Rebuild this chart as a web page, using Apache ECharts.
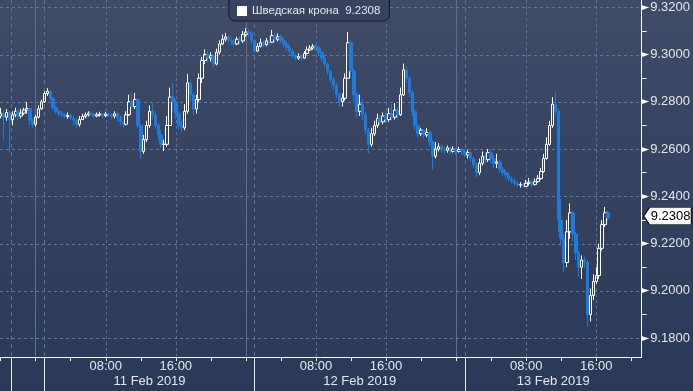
<!DOCTYPE html>
<html><head><meta charset="utf-8">
<script src="https://cdn.jsdelivr.net/npm/echarts@6.0.0/dist/echarts.min.js"></script>
<style>html,body{margin:0;padding:0;background:#34415f}#c{width:693px;height:391px;background:linear-gradient(180deg,#3f4b67 0%,#2a3958 100%)}</style>
</head><body><div id="c"></div>
<script>
// ---------- data ----------
const seriesName = 'Шведская крона';
const lastValue = 9.2308;
const startTime = '2019-02-10T20:00:00Z';   // first 20-minute candle
const stepMinutes = 20;
const firstOpen = 9.2740;
const closes = [
 9.2750,9.2735,9.2755,9.2725,9.2745,9.2760,9.2740,9.2752,9.2765,9.2772,
 9.2720,9.2705,9.2735,9.2770,9.2800,9.2835,9.2845,9.2815,9.2775,9.2760,
 9.2750,9.2745,9.2738,9.2742,9.2730,9.2722,9.2705,9.2725,9.2738,9.2745,
 9.2752,9.2748,9.2740,9.2745,9.2748,9.2742,9.2748,9.2745,9.2740,9.2750,
 9.2735,9.2715,9.2705,9.2745,9.2800,9.2780,9.2810,9.2700,9.2590,9.2640,
 9.2700,9.2760,9.2745,9.2700,9.2660,9.2620,9.2620,9.2700,9.2820,9.2800,
 9.2750,9.2700,9.2690,9.2760,9.2880,9.2830,9.2770,9.2810,9.2900,9.2975,
 9.3000,9.2985,9.2995,9.2960,9.3010,9.3045,9.3065,9.3075,9.3060,9.3055,
 9.3045,9.3065,9.3058,9.3085,9.3095,9.3090,9.3060,9.3015,9.3035,9.3050,
 9.3042,9.3058,9.3052,9.3080,9.3065,9.3075,9.3060,9.3045,9.3030,9.3015,
 9.2995,9.2985,9.2992,9.2985,9.3005,9.3020,9.3028,9.3035,9.3030,9.3010,
 9.2985,9.2960,9.2930,9.2895,9.2870,9.2830,9.2800,9.2815,9.2900,9.3050,
 9.2930,9.2830,9.2760,9.2790,9.2745,9.2680,9.2620,9.2665,9.2700,9.2730,
 9.2715,9.2740,9.2725,9.2750,9.2735,9.2765,9.2745,9.2830,9.2935,9.2900,
 9.2840,9.2760,9.2700,9.2665,9.2680,9.2660,9.2670,9.2630,9.2570,9.2600,
 9.2610,9.2600,9.2595,9.2605,9.2590,9.2600,9.2590,9.2598,9.2592,9.2575,
 9.2585,9.2560,9.2535,9.2500,9.2540,9.2570,9.2555,9.2585,9.2560,9.2540,
 9.2545,9.2515,9.2500,9.2490,9.2475,9.2465,9.2455,9.2448,9.2450,9.2442,
 9.2455,9.2460,9.2450,9.2462,9.2475,9.2505,9.2560,9.2620,9.2700,9.2790,
 9.2760,9.2300,9.2220,9.2120,9.2250,9.2330,9.2240,9.2160,9.2100,9.2130,
 9.2120,9.1900,9.1980,9.2040,9.2065,9.2180,9.2280,9.2330,9.2308
];
const highs = [
 9.2775,9.2765,9.2770,9.2760,9.2760,9.2775,9.2765,9.2770,9.2775,9.2800,
 9.2760,9.2730,9.2745,9.2785,9.2810,9.2845,9.2858,9.2850,9.2820,9.2785,
 9.2765,9.2760,9.2752,9.2755,9.2750,9.2740,9.2730,9.2740,9.2750,9.2755,
 9.2760,9.2762,9.2752,9.2755,9.2758,9.2752,9.2758,9.2760,9.2752,9.2760,
 9.2755,9.2740,9.2725,9.2760,9.2830,9.2840,9.2838,9.2815,9.2705,9.2660,
 9.2720,9.2785,9.2800,9.2760,9.2710,9.2680,9.2640,9.2740,9.2860,9.2878,
 9.2810,9.2760,9.2720,9.2790,9.2918,9.2890,9.2840,9.2830,9.2920,9.2990,
 9.3022,9.3015,9.3010,9.3000,9.3025,9.3060,9.3085,9.3092,9.3080,9.3072,
 9.3065,9.3075,9.3078,9.3100,9.3112,9.3110,9.3100,9.3065,9.3048,9.3068,
 9.3060,9.3070,9.3075,9.3105,9.3092,9.3090,9.3085,9.3068,9.3052,9.3040,
 9.3025,9.3005,9.3005,9.3000,9.3015,9.3035,9.3040,9.3045,9.3042,9.3040,
 9.3015,9.2995,9.2965,9.2935,9.2905,9.2880,9.2840,9.2835,9.2920,9.3095,
 9.3060,9.2940,9.2840,9.2830,9.2810,9.2760,9.2690,9.2690,9.2720,9.2750,
 9.2745,9.2755,9.2760,9.2775,9.2790,9.2795,9.2780,9.2860,9.2962,9.2950,
 9.2910,9.2850,9.2770,9.2705,9.2690,9.2685,9.2690,9.2680,9.2640,9.2630,
 9.2625,9.2620,9.2612,9.2615,9.2610,9.2612,9.2605,9.2610,9.2605,9.2600,
 9.2598,9.2590,9.2570,9.2545,9.2560,9.2590,9.2585,9.2600,9.2600,9.2575,
 9.2580,9.2555,9.2525,9.2510,9.2500,9.2485,9.2475,9.2465,9.2460,9.2458,
 9.2470,9.2478,9.2470,9.2475,9.2490,9.2520,9.2580,9.2650,9.2720,9.2820,
 9.2842,9.2770,9.2390,9.2240,9.2300,9.2370,9.2340,9.2250,9.2170,9.2150,
 9.2145,9.2130,9.2010,9.2070,9.2100,9.2200,9.2300,9.2355,9.2340
];
const lows = [
 9.2730,9.2640,9.2720,9.2585,9.2700,9.2735,9.2725,9.2730,9.2745,9.2750,
 9.2700,9.2690,9.2695,9.2730,9.2765,9.2795,9.2825,9.2805,9.2765,9.2750,
 9.2740,9.2735,9.2730,9.2728,9.2720,9.2700,9.2690,9.2695,9.2725,9.2730,
 9.2738,9.2740,9.2732,9.2735,9.2738,9.2730,9.2735,9.2738,9.2728,9.2730,
 9.2715,9.2700,9.2690,9.2700,9.2740,9.2770,9.2770,9.2690,9.2562,9.2580,
 9.2630,9.2690,9.2725,9.2685,9.2640,9.2605,9.2592,9.2610,9.2700,9.2760,
 9.2730,9.2680,9.2672,9.2680,9.2750,9.2800,9.2745,9.2750,9.2800,9.2880,
 9.2960,9.2965,9.2970,9.2945,9.2955,9.3000,9.3040,9.3055,9.3050,9.3040,
 9.3035,9.3040,9.3045,9.3050,9.3075,9.3075,9.3045,9.3005,9.3010,9.3030,
 9.3030,9.3035,9.3040,9.3050,9.3050,9.3055,9.3048,9.3030,9.3015,9.3000,
 9.2985,9.2975,9.2978,9.2975,9.2982,9.3000,9.3015,9.3020,9.3018,9.2995,
 9.2970,9.2945,9.2915,9.2880,9.2850,9.2815,9.2778,9.2780,9.2805,9.2900,
 9.2900,9.2800,9.2730,9.2740,9.2720,9.2660,9.2583,9.2610,9.2655,9.2690,
 9.2700,9.2705,9.2710,9.2715,9.2720,9.2725,9.2730,9.2740,9.2825,9.2880,
 9.2820,9.2740,9.2680,9.2650,9.2655,9.2645,9.2650,9.2610,9.2512,9.2560,
 9.2590,9.2585,9.2580,9.2585,9.2578,9.2585,9.2575,9.2585,9.2575,9.2565,
 9.2560,9.2545,9.2520,9.2480,9.2490,9.2530,9.2540,9.2545,9.2540,9.2520,
 9.2520,9.2500,9.2485,9.2475,9.2465,9.2455,9.2445,9.2440,9.2437,9.2435,
 9.2440,9.2445,9.2440,9.2445,9.2458,9.2470,9.2500,9.2555,9.2615,9.2690,
 9.2740,9.2250,9.2190,9.2080,9.2100,9.2220,9.2210,9.2130,9.2060,9.2050,
 9.2095,9.1846,9.1870,9.1960,9.2030,9.2050,9.2170,9.2270,9.2295
];
// axis ticks and labels
const yMajorTicks = [9.18, 9.20, 9.22, 9.24, 9.26, 9.28, 9.30, 9.32];
const yMinorTicks = [9.17, 9.19, 9.21, 9.23, 9.25, 9.27, 9.29, 9.31];
const hourTickTimes = [
 '2019-02-10T20:00Z','2019-02-11T00:00Z','2019-02-11T04:00Z','2019-02-11T08:00Z','2019-02-11T12:00Z','2019-02-11T16:00Z','2019-02-11T20:00Z',
 '2019-02-12T00:00Z','2019-02-12T04:00Z','2019-02-12T08:00Z','2019-02-12T12:00Z','2019-02-12T16:00Z','2019-02-12T20:00Z',
 '2019-02-13T00:00Z','2019-02-13T04:00Z','2019-02-13T08:00Z','2019-02-13T12:00Z','2019-02-13T16:00Z','2019-02-13T20:00Z'
];
const timeLabelTimes = ['2019-02-11T08:00Z','2019-02-11T16:00Z','2019-02-12T08:00Z','2019-02-12T16:00Z','2019-02-13T08:00Z','2019-02-13T16:00Z'];
const dateLabels = ['11 Feb 2019', '12 Feb 2019', '13 Feb 2019'];
const dateLabelTimes = ['2019-02-11T13:00Z', '2019-02-12T13:00Z', '2019-02-13T11:05Z'];
const dayBoundaryTimes = ['2019-02-10T21:10Z', '2019-02-11T01:00Z', '2019-02-12T01:00Z', '2019-02-13T01:00Z'];
const midnightTimes = ['2019-02-11T00:00Z', '2019-02-12T00:00Z', '2019-02-13T00:00Z'];

// ---------- build ----------
const T = s => Date.parse(s);
const H = 3600e3;
const DAY0 = T('2019-02-11T00:00Z');
const xMin = DAY0 - 4.0755 * H, xMax = DAY0 + 69.17 * H;
const yMin = 9.1720, yMax = 9.3231;
const FONT = 'Liberation Sans';
const TXT = '#e4e6ea';
const GRIDC = '#607090';

const t0 = T(startTime);
const candles = closes.map((c, i) => [t0 + i * stepMinutes * 60e3, i === 0 ? firstOpen : closes[i - 1], c, lows[i], highs[i]]);

const hidden = {type: 'value', min: xMin, max: xMax, position: 'bottom', axisLine: {show: false},
  axisTick: {show: false}, axisLabel: {show: false}, splitLine: {show: false}};
const hiddenY = {type: 'value', min: yMin, max: yMax, position: 'right', axisLine: {show: false},
  axisTick: {show: false}, axisLabel: {show: false}, splitLine: {show: false}};
const pad = n => (n < 10 ? '0' : '') + n;
const dateTimesMs = dateLabelTimes.map(T);

const chart = echarts.init(document.getElementById('c'), null, {renderer: 'canvas'});
chart.setOption({
  animation: false,
  backgroundColor: 'transparent',
  grid: {left: 0, top: 0, right: 46, bottom: 34, containLabel: false},
  legend: {
    show: true, left: 229, top: -6, padding: [11, 9, 4, 8], selectedMode: false,
    backgroundColor: '#38445f', borderColor: '#10151f', borderWidth: 1, borderRadius: [0, 0, 6, 6],
    itemWidth: 10, itemHeight: 10,
    data: [{name: seriesName, icon: 'rect', itemStyle: {color: '#ffffff', borderWidth: 0}}],
    textStyle: {color: TXT, fontSize: 11.5, fontFamily: FONT},
    formatter: n => n + '  ' + lastValue.toFixed(4)
  },
  xAxis: [
    Object.assign({}, hidden, {
      axisLine: {show: true, lineStyle: {color: '#ffffff', width: 1}},
      axisTick: {show: true, customValues: hourTickTimes.map(T), length: 4, lineStyle: {color: '#ffffff'}},
      axisLabel: {show: true, customValues: timeLabelTimes.map(T), margin: 3, color: TXT, fontSize: 13, fontFamily: FONT,
        formatter: v => { const d = new Date(v); return pad(d.getUTCHours()) + ':' + pad(d.getUTCMinutes()); }}
    }),
    Object.assign({}, hidden, {
      axisTick: {show: true, customValues: dayBoundaryTimes.map(T), length: 34, lineStyle: {color: '#e8e8e8'}},
      axisLabel: {show: true, customValues: dateTimesMs, margin: 18, color: TXT, fontSize: 13, fontFamily: FONT,
        formatter: v => { let k = 0, best = Infinity; dateTimesMs.forEach((t, j) => { if (Math.abs(t - v) < best) { best = Math.abs(t - v); k = j; } }); return dateLabels[k]; }},
      splitLine: {show: true, lineStyle: {color: GRIDC, type: [4, 4], width: 1}}
    }),
    Object.assign({}, hidden, {
      axisTick: {show: false, customValues: timeLabelTimes.map(T)},
      splitLine: {show: true, lineStyle: {color: GRIDC, type: [3, 3], width: 1}}
    }),
    Object.assign({}, hidden, {
      axisTick: {show: false, customValues: midnightTimes.map(T)},
      splitLine: {show: true, lineStyle: {color: '#5b7191', type: 'solid', width: 1}}
    })
  ],
  yAxis: [
    Object.assign({}, hiddenY, {
      axisLine: {show: true, lineStyle: {color: '#ffffff', width: 1}},
      axisTick: {show: false, customValues: yMajorTicks},
      axisLabel: {show: true, customValues: yMajorTicks, margin: 0, color: TXT, fontSize: 13, fontFamily: FONT,
        formatter: v => '{a|►}' + v.toFixed(4),
        rich: {a: {fontSize: 10, fontFamily: 'DejaVu Sans', color: '#ffffff', padding: [0, 1, 0, 0]}}}
    }),
    Object.assign({}, hiddenY, {
      axisTick: {show: true, customValues: yMinorTicks, length: 5, lineStyle: {color: '#ffffff'}}
    })
  ],
  series: [{
    // horizontal dashed grid lines, built as short segments on the value scale
    name: 'hgrid', type: 'custom', xAxisIndex: 0, yAxisIndex: 0, z: 1, silent: true, clip: false,
    data: yMajorTicks.map(v => [v]), encode: {y: 0},
    renderItem: (params, api) => {
      const v = api.value(0);
      const a = api.coord([xMin, v]), b = api.coord([xMax, v]);
      const y = Math.round(a[1]) + 0.5;
      const children = [];
      for (let x = a[0]; x < b[0]; x += 6) {
        children.push({type: 'rect', silent: true,
          shape: {x: Math.round(x), y: y - 0.5, width: 3, height: 1},
          style: {fill: '#66779a'}});
      }
      return {type: 'group', children};
    }
  }, {
    name: seriesName, type: 'candlestick', xAxisIndex: 0, yAxisIndex: 0, z: 3,
    data: candles, barWidth: 3,
    itemStyle: {color: 'rgba(0,0,0,0)', color0: '#1f7ad8', borderColor: '#ffffff', borderColor0: '#1f7ad8', borderWidth: 1},
    markPoint: {
      symbol: 'path://M0,8 L6,0 L50,0 L50,16 L6,16 Z', symbolSize: [48, 17], symbolKeepAspect: false,
      symbolOffset: [26, -2],
      itemStyle: {color: '#ffffff', borderColor: '#1a1a1a', borderWidth: 1},
      label: {show: true, position: 'inside', offset: [3, 0], color: '#000000', fontSize: 13, fontFamily: FONT,
        formatter: () => lastValue.toFixed(4)},
      data: [{coord: [xMax - 1, lastValue], value: lastValue}]
    }
  }]
});
</script></body></html>
